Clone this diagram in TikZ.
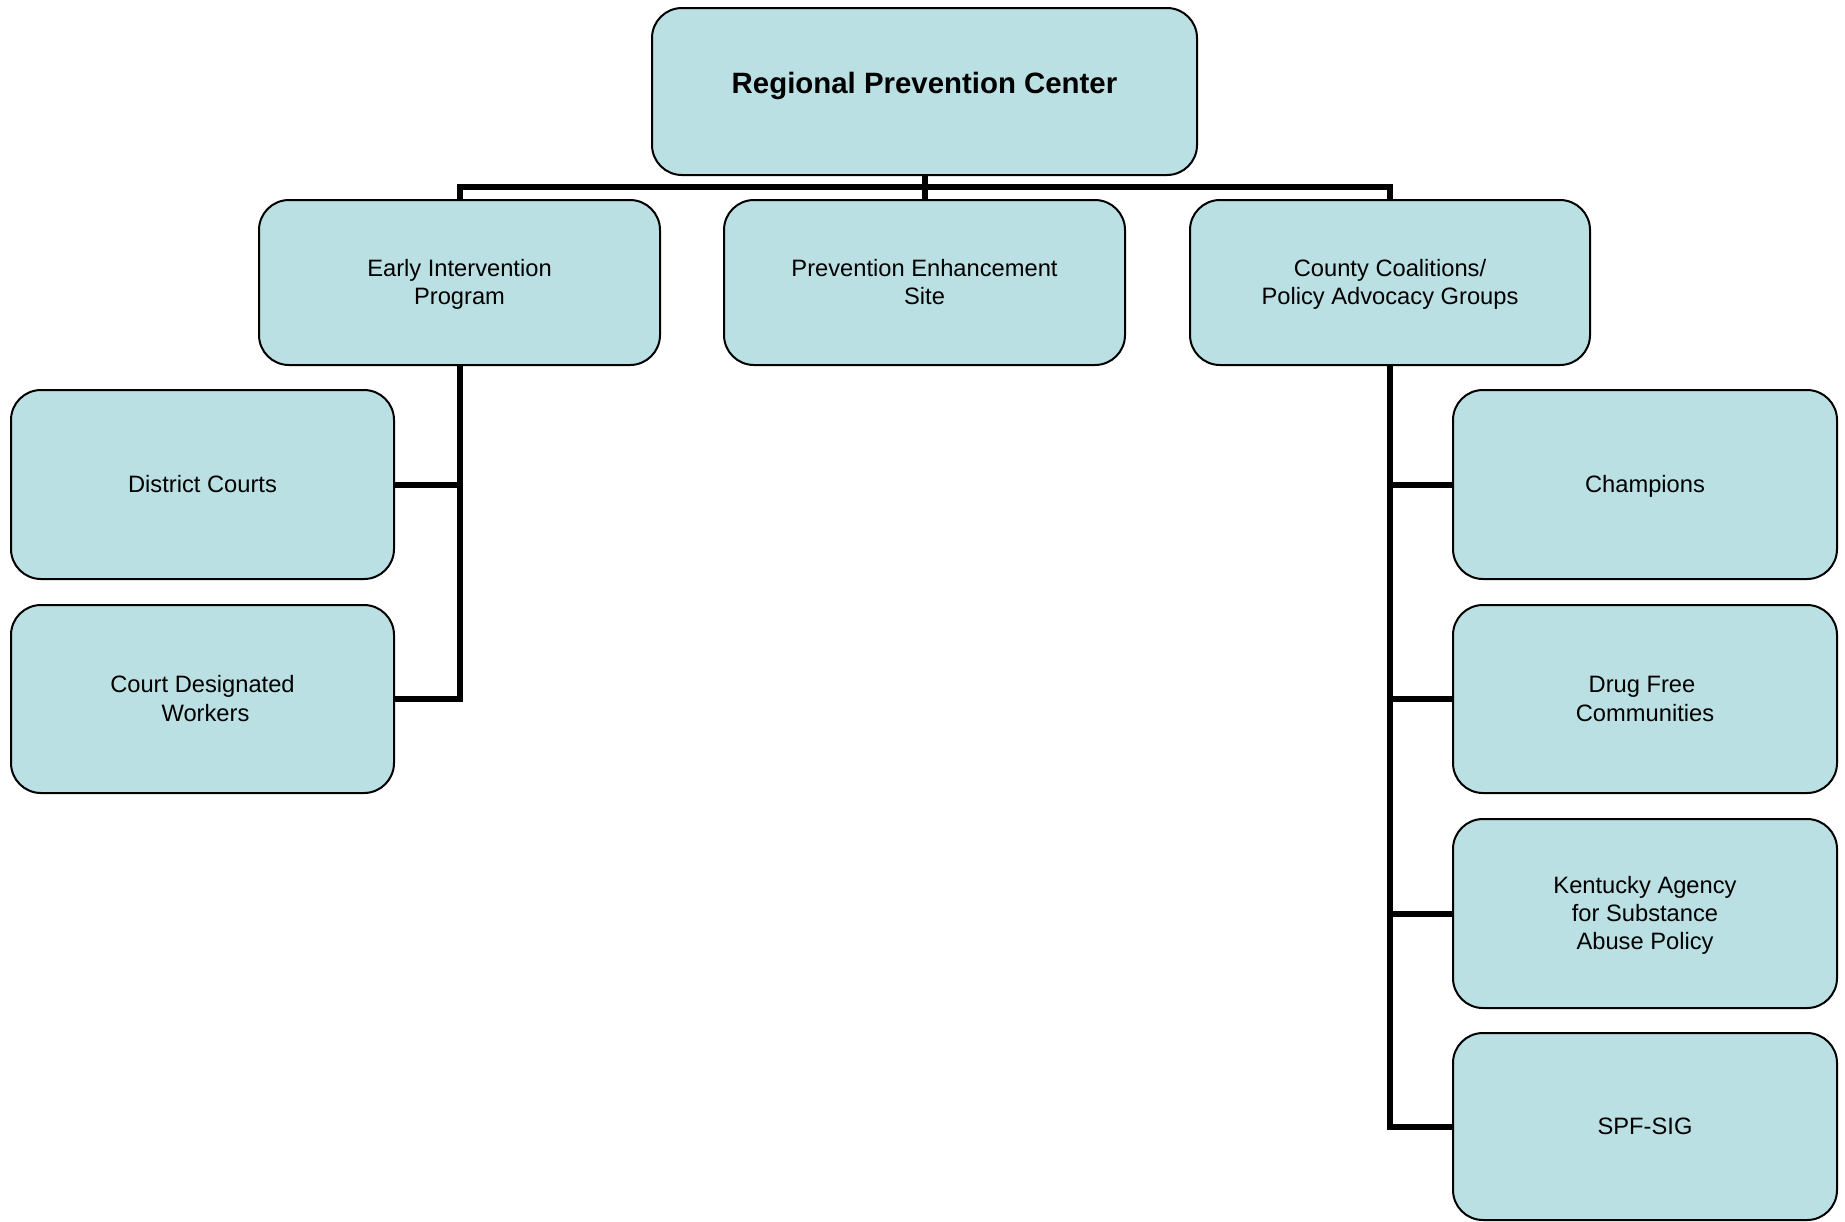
\documentclass[tikz,border=0pt]{standalone}
\usepackage{fontspec}
\setmainfont{Liberation Sans}
\definecolor{boxfill}{RGB}{186,224,227}
\newcommand{\lowtext}[1]{\raisebox{-1.2pt}[\height][\depth]{\begin{tabular}{@{}c@{}}#1\end{tabular}}}
\begin{document}
\begin{tikzpicture}[x=0.5pt,y=-0.5pt,
  box/.style={draw=black, line width=1pt, fill=boxfill, rounded corners=15pt,
    inner sep=0pt, align=center, font=\fontsize{11.85}{14.2}\selectfont},
  conn/.style={line width=3pt, draw=black}]
\useasboundingbox (0,0) rectangle (1845,1221);
% level 0
\node[box, minimum width=272.5pt, minimum height=83.5pt,
  font=\fontsize{14.7}{17}\selectfont\bfseries] (top) at (924.5,91.5)
  {\raisebox{3pt}[\height][\depth]{Regional Prevention Center}};
% level 1
\node[box, minimum width=200.5pt, minimum height=82.5pt] (eip) at (459.5,282.5) {\lowtext{Early Intervention\\Program}};
\node[box, minimum width=200.5pt, minimum height=82.5pt] (pes) at (924.5,282.5) {\lowtext{Prevention Enhancement\\Site}};
\node[box, minimum width=200pt, minimum height=82.5pt] (cc) at (1390,282.5) {\lowtext{County Coalitions/\\Policy Advocacy Groups}};
% left children
\node[box, minimum width=191.5pt, minimum height=94.5pt] (dc) at (202.5,484.5) {\lowtext{District Courts}};
\node[box, minimum width=191.5pt, minimum height=94pt] (cdw) at (202.5,699) {\lowtext{Court Designated\\\hspace*{3pt}Workers}};
% right children
\node[box, minimum width=192pt, minimum height=94.5pt] (ch) at (1645,484.5) {\lowtext{Champions}};
\node[box, minimum width=192pt, minimum height=94pt] (dfc) at (1645,699) {\lowtext{Drug Free\hspace*{3pt}\\Communities}};
\node[box, minimum width=192pt, minimum height=94.5pt] (ky) at (1645,913.5) {\lowtext{Kentucky Agency\\for Substance\\Abuse Policy}};
\node[box, minimum width=192pt, minimum height=93.5pt] (spf) at (1645,1126.5) {\lowtext{SPF-SIG}};
% connectors
\coordinate (bus) at (924.5,187);
\draw[conn] (eip.north) |- (bus) -| (cc.north);
\draw[conn] (top.south) -- (pes.north);
\draw[conn] (eip.south) |- (cdw.east);
\draw[conn] (dc.east) -- (dc.east -| eip.south);
\draw[conn] (cc.south) |- (spf.west);
\draw[conn] (ch.west) -- (ch.west -| cc.south);
\draw[conn] (dfc.west) -- (dfc.west -| cc.south);
\draw[conn] (ky.west) -- (ky.west -| cc.south);
\end{tikzpicture}
\end{document}
